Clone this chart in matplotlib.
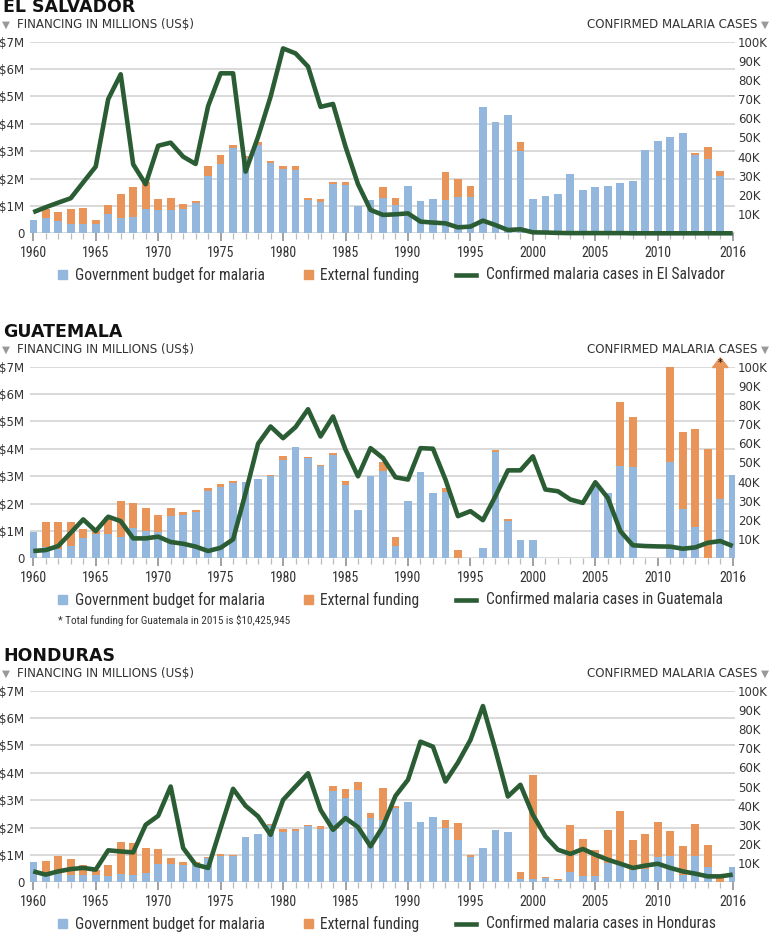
import numpy as np
import matplotlib
matplotlib.use("Agg")
import matplotlib.pyplot as plt
from matplotlib import font_manager
from matplotlib.patches import Rectangle, Polygon
from matplotlib.lines import Line2D

years = np.arange(1960, 2017)

# financing in millions US$, cases in thousands
sv_gov = [0.49, 0.55, 0.45, 0.34, 0.34, 0.34, 0.69, 0.57, 0.58, 0.88,
          0.85, 0.85, 0.88, 1.10, 2.10, 2.52, 3.13, 2.75, 3.23, 2.56,
          2.34, 2.31, 1.22, 1.13, 1.80, 1.77, 1.00, 1.22, 1.28, 1.03,
          1.71, 1.18, 1.25, 1.22, 1.34, 1.34, 4.60, 4.06, 4.34, 3.02,
          1.27, 1.36, 1.43, 2.17, 1.58, 1.68, 1.73, 1.83, 1.91, 3.06,
          3.36, 3.53, 3.68, 2.85, 2.72, 2.08, 0]
sv_ext = [0, 0.33, 0.32, 0.55, 0.57, 0.15, 0.33, 0.87, 1.10, 1.01,
          0.42, 0.45, 0.18, 0.09, 0.36, 0.34, 0.10, 0.08, 0.12, 0.08,
          0.12, 0.15, 0.08, 0.12, 0.08, 0.09, 0, 0, 0.40, 0.27,
          0, 0, 0, 1.03, 0.65, 0.39, 0, 0, 0, 0.32,
          0, 0, 0, 0, 0, 0, 0, 0, 0, 0,
          0, 0, 0, 0.09, 0.43, 0.20, 0]
sv_cases = [11, 13.6, 16, 18.3, 26.6, 34.8, 70, 83, 36, 25.6,
            45.7, 47.3, 40, 36.2, 66.4, 83.5, 83.5, 32.2, 50.4, 71.3,
            96.5, 93.9, 87, 66, 67.5, 45.2, 25.6, 12.2, 9.6, 9.9,
            10.4, 6.1, 5.6, 5.2, 3.1, 3.5, 6.6, 4.3, 1.7, 2.1,
            0.5, 0.4, 0.2, 0.1, 0.1, 0.1, 0.1, 0.1, 0, 0,
            0, 0, 0, 0, 0, 0, 0]

gt_gov = [0.97, 0.42, 0.35, 0.45, 0.73, 0.90, 0.87, 0.78, 1.12, 1.00,
          0.97, 1.54, 1.60, 1.69, 2.45, 2.61, 2.75, 2.78, 2.90, 3.00,
          3.60, 4.07, 3.66, 3.36, 3.76, 2.69, 1.78, 3.00, 3.18, 0.45,
          2.11, 3.14, 2.39, 2.41, 0, 0, 0.36, 3.88, 1.36, 0.67,
          0.67, 0, 0, 0, 0, 2.65, 2.37, 3.36, 3.34, 0,
          0, 3.50, 1.81, 1.14, 0, 2.15, 3.06]
gt_ext = [0, 0.90, 0.97, 0.87, 0.35, 0.10, 0.63, 1.33, 0.91, 0.84,
          0.63, 0.28, 0.09, 0.09, 0.12, 0.12, 0.09, 0, 0, 0.03,
          0.13, 0, 0.04, 0.04, 0.09, 0.13, 0, 0, 0.33, 0.33,
          0, 0, 0, 0.16, 0.29, 0, 0, 0.08, 0.06, 0,
          0, 0, 0, 0, 0, 0, 0, 2.34, 1.82, 0,
          0, 3.48, 2.80, 3.59, 3.99, 8.28, 0]
gt_cases = [3.8, 4.3, 6.4, 13.3, 20.3, 14.2, 21.7, 19.4, 10.4, 10.4,
            11.3, 8.5, 7.6, 6.1, 3.8, 5.5, 9.9, 34.1, 59.8, 68.8,
            62.7, 68.5, 77.8, 63.6, 74, 56.7, 42.8, 57.5, 52.3, 42.3,
            41.1, 57.5, 57.2, 41.1, 22, 24.6, 19.9, 32.4, 45.9, 45.9,
            53.2, 35.9, 35, 30.7, 28.9, 39.7, 31.5, 14.2, 6.8, 6.4,
            6.2, 6.1, 5.0, 5.7, 8.1, 9.0, 6.4]

hn_gov = [0.73, 0.25, 0.30, 0.25, 0.26, 0.28, 0.22, 0.32, 0.28, 0.34,
          0.68, 0.68, 0.64, 0.68, 0.89, 0.97, 0.97, 1.65, 1.77, 2.10,
          1.83, 1.86, 2.04, 1.96, 3.34, 3.07, 3.38, 2.35, 2.28, 2.71,
          2.93, 2.19, 2.38, 2.00, 1.56, 0.92, 1.25, 1.92, 1.82, 0.12,
          0.12, 0.15, 0.07, 0.36, 0.24, 0.24, 0.70, 0.64, 0.46, 0.50,
          0.91, 0.95, 0.28, 0.95, 0.55, 0.02, 0.56]
hn_ext = [0, 0.52, 0.67, 0.60, 0.36, 0.18, 0.40, 1.15, 1.15, 0.91,
          0.55, 0.21, 0.10, 0.05, 0.02, 0.07, 0.03, 0, 0, 0.04,
          0.13, 0.10, 0.05, 0.11, 0.18, 0.33, 0.28, 0.20, 1.18, 0.09,
          0, 0, 0, 0.28, 0.60, 0.06, 0, 0, 0, 0.26,
          3.80, 0.04, 0.04, 1.74, 1.35, 0.93, 1.22, 1.95, 1.10, 1.27,
          1.29, 0.91, 1.03, 1.19, 0.82, 0.13, 0]
hn_cases = [5.7, 4.0, 5.7, 6.9, 7.5, 6.6, 16.7, 16.1, 15.6, 30,
            34.7, 50, 17.9, 9.2, 7.5, 28.3, 48.8, 39.9, 34.4, 24.8,
            43, 50, 56.9, 37.8, 27.4, 33.5, 28.8, 18.8, 29.2, 45.1,
            53.5, 73.4, 70.8, 52.6, 62.5, 74.3, 92, 69.1, 44.8, 50.9,
            35.2, 24, 17, 14.8, 17.4, 14.4, 11.8, 9.7, 7.5, 8.7,
            9.7, 7.5, 5.7, 4.5, 3.1, 3.1, 4.0]

money_labels = ['0', '$1M', '$2M', '$3M', '$4M', '$5M', '$6M', '$7M']
case_labels = ['10K', '20K', '30K', '40K', '50K', '60K', '70K', '80K', '90K', '100K']
year_labels = [1960, 1965, 1970, 1975, 1980, 1985, 1990, 1995, 2000, 2005, 2010, 2016]

BLUE = '#94b7de'
ORANGE = '#e9955a'
GREEN = '#2b5d34'
GRID = '#d3d3d3'
TXT = '#333333'

avail = {f.name for f in font_manager.fontManager.ttflist}
def pick(*names):
    for n in names:
        if n in avail:
            return n
    return 'DejaVu Sans'
COND = pick('Liberation Sans Narrow', 'Roboto Condensed', 'Open Sans Condensed', 'Liberation Sans')

W, H = 773, 935
fig = plt.figure(figsize=(W / 100, H / 100), dpi=100)

def fx(px):
    return px / W

def fy(py):
    return 1 - py / H


def panel(top, name, gov, ext, cases, country, gt=False):
    left, right, h = 30, 735, 191.6
    ax = fig.add_axes([fx(left), fy(top + h), fx(right - left), h / H])
    gov = np.array(gov)
    ax.bar(years, gov, width=0.62, color=BLUE, zorder=2)
    ax.bar(years, ext, bottom=gov, width=0.62, color=ORANGE, zorder=2)
    ax.set_xlim(1959.74, 2016.18)
    ax.set_ylim(0, 7)
    ax.set_yticks(range(8))
    ax.set_yticklabels(money_labels, fontsize=8.5, color=TXT)
    ax.grid(axis='y', color=GRID, lw=1.2, zorder=0)
    for s in ax.spines.values():
        s.set_visible(False)
    ax.tick_params(axis='y', length=0, pad=4)
    ax.set_xticks(year_labels)
    ax.set_xticklabels([str(y) for y in year_labels], fontsize=10, color=TXT, family=COND)
    ax.set_xticks(years, minor=True)
    ax.tick_params(axis='x', which='major', length=6, width=1.1, color='#888888', pad=3)
    ax.tick_params(axis='x', which='minor', length=4.5, width=0.9, color='#bbbbbb')

    if gt:
        # arrow tip: 2015 total runs off the scale
        ax.add_patch(Polygon([(2015 - 0.62, 6.97), (2015 + 0.62, 6.97), (2015, 7.33)],
                             closed=True, color=ORANGE, clip_on=False, zorder=3))
        ax.text(2015, 7.13, '*', ha='center', va='center', fontsize=7, color='black',
                zorder=4, clip_on=False)

    ax2 = ax.twinx()
    ax2.plot(years, cases, color=GREEN, lw=3.3, solid_joinstyle='round',
             solid_capstyle='butt', clip_on=False)
    ax2.set_ylim(0, 100)
    ax2.set_xlim(1959.74, 2016.18)
    ax2.set_yticks(range(10, 101, 10))
    ax2.set_yticklabels(case_labels, fontsize=8.5, color=TXT)
    ax2.tick_params(axis='y', length=0, pad=2)
    for s in ax2.spines.values():
        s.set_visible(False)

    fig.text(fx(3), fy(top - 34.5), name, fontsize=12.5, fontweight='bold', color='#111111',
             va='center', ha='left')
    fig.text(fx(2), fy(top - 17), '\u25bc', fontsize=7.5, color='#999999', va='center', ha='left')
    fig.text(fx(17), fy(top - 17), 'FINANCING IN MILLIONS (US$)', fontsize=8.6, color=TXT,
             va='center', ha='left')
    fig.text(fx(757), fy(top - 17), 'CONFIRMED MALARIA CASES', fontsize=8.6, color=TXT,
             va='center', ha='right')
    fig.text(fx(761), fy(top - 17), '\u25bc', fontsize=7.5, color='#999999', va='center', ha='left')

    # legend
    ly = top + 233
    fig.add_artist(Rectangle((fx(58), fy(ly + 4.5)), fx(9), 9 / H, color=BLUE,
                             transform=fig.transFigure))
    fig.text(fx(75), fy(ly), 'Government budget for malaria', fontsize=11.2, family=COND,
             color=TXT, va='center', ha='left')
    fig.add_artist(Rectangle((fx(304), fy(ly + 4.5)), fx(9), 9 / H, color=ORANGE,
                             transform=fig.transFigure))
    fig.text(fx(320), fy(ly), 'External funding', fontsize=11.2, family=COND,
             color=TXT, va='center', ha='left')
    fig.add_artist(Line2D([fx(456), fx(476)], [fy(ly), fy(ly)], color=GREEN, lw=3.3,
                          transform=fig.transFigure))
    fig.text(fx(486), fy(ly), 'Confirmed malaria cases in ' + country, fontsize=11.2,
             family=COND, color=TXT, va='center', ha='left')
    return ax


panel(41.7, 'EL SALVADOR', sv_gov, sv_ext, sv_cases, 'El Salvador')
panel(366.7, 'GUATEMALA', gt_gov, gt_ext, gt_cases, 'Guatemala', gt=True)
panel(690.7, 'HONDURAS', hn_gov, hn_ext, hn_cases, 'Honduras')

fig.text(fx(58), fy(620), '* Total funding for Guatemala in 2015 is $10,425,945', fontsize=8,
         family=COND, color=TXT, va='center', ha='left')

fig.savefig('out.png', dpi=100)
